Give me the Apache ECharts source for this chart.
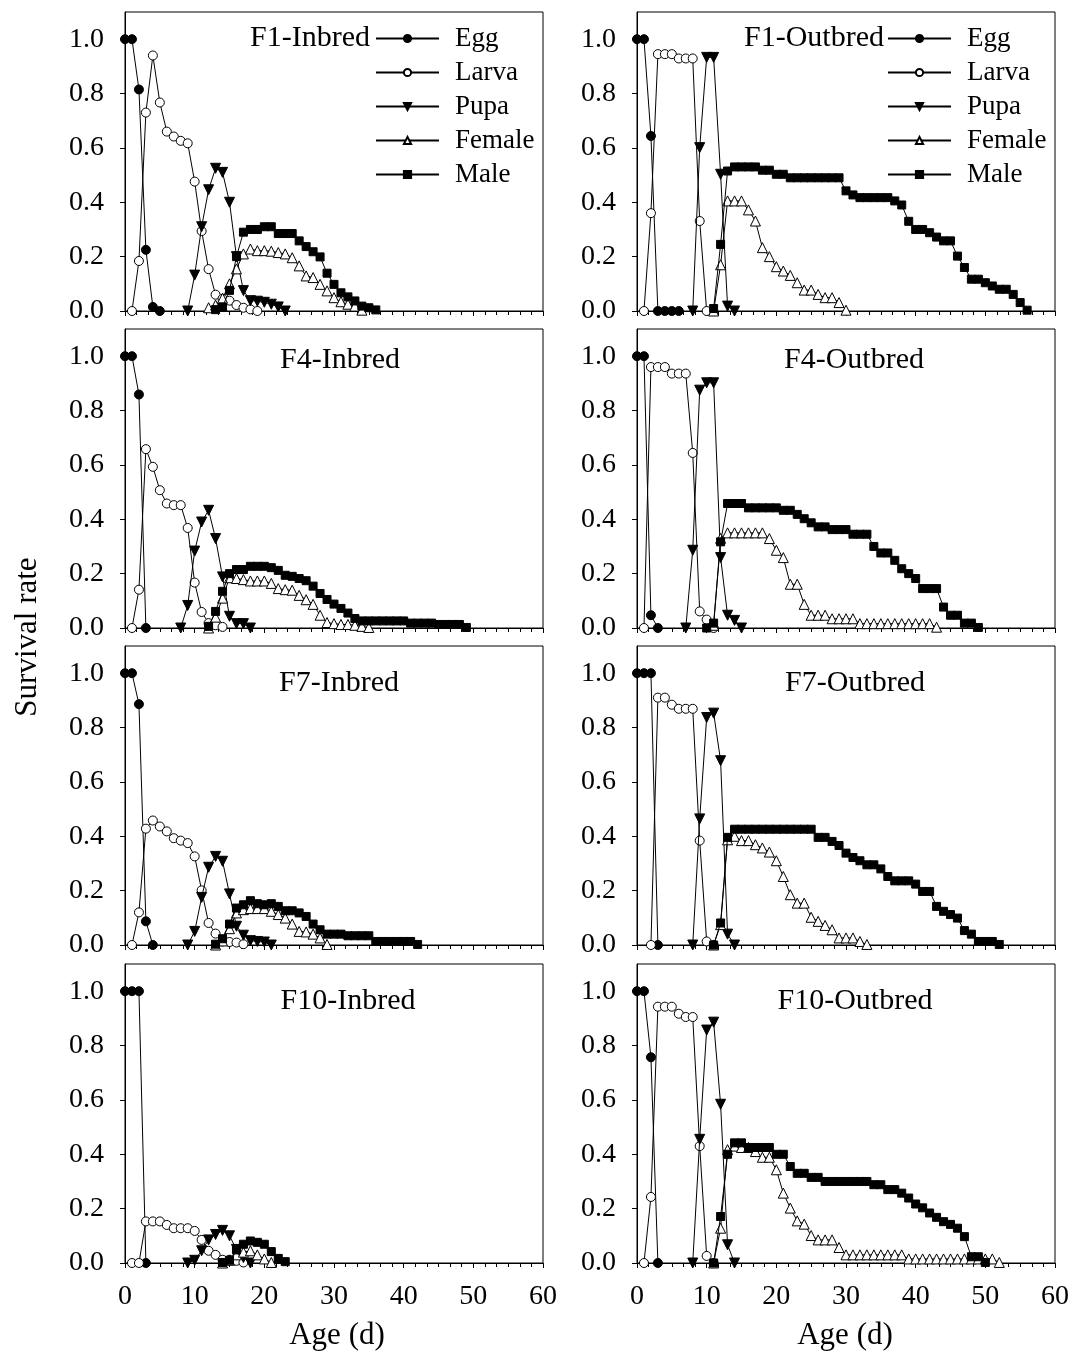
<!DOCTYPE html>
<html>
<head>
<meta charset="utf-8">
<script src="https://cdn.jsdelivr.net/npm/echarts@6/dist/echarts.min.js"></script>
<style>
html,body{margin:0;padding:0;background:#fff;}
#chart{width:1083px;height:1353px;}
</style>
</head>
<body>
<div id="chart"></div>
<script>
// ---------- DATA (start = first day, v = daily survival rates) ----------
const STAGES = ['Egg', 'Larva', 'Pupa', 'Female', 'Male'];
const X_TICKS = [0, 10, 20, 30, 40, 50, 60];
const Y_TICKS = [0, 0.2, 0.4, 0.6, 0.8, 1.0];

// F1-Inbred
const F1_IN_EGG    = {start: 0,  v: [1, 1, 0.815, 0.225, 0.015, 0]};
const F1_IN_LARVA  = {start: 1,  v: [0, 0.184, 0.73, 0.94, 0.767, 0.66, 0.642, 0.626, 0.617, 0.476, 0.294, 0.154, 0.06, 0.045, 0.038, 0.022, 0.012, 0.006, 0]};
const F1_IN_PUPA   = {start: 9,  v: [0, 0.132, 0.31, 0.446, 0.525, 0.51, 0.40, 0.20, 0.075, 0.038, 0.036, 0.032, 0.025, 0.015, 0]};
const F1_IN_FEMALE = {start: 12, v: [0.012, 0.022, 0.047, 0.1, 0.155, 0.21, 0.228, 0.222, 0.222, 0.22, 0.215, 0.21, 0.196, 0.166, 0.129, 0.123, 0.098, 0.074, 0.049, 0.034, 0.025, 0.018, 0.003]};
const F1_IN_MALE   = {start: 13, v: [0.005, 0.015, 0.076, 0.2, 0.29, 0.3, 0.3, 0.31, 0.31, 0.285, 0.285, 0.285, 0.258, 0.237, 0.218, 0.199, 0.139, 0.098, 0.067, 0.052, 0.037, 0.018, 0.012, 0.004]};

// F1-Outbred
const F1_OUT_EGG    = {start: 0,  v: [1, 1, 0.644, 0, 0, 0, 0]};
const F1_OUT_LARVA  = {start: 1,  v: [0, 0.36, 0.945, 0.945, 0.945, 0.929, 0.929, 0.929, 0.331, 0]};
const F1_OUT_PUPA   = {start: 8,  v: [0, 0.601, 0.933, 0.933, 0.503, 0.018, 0]};
const F1_OUT_FEMALE = {start: 11, v: [0, 0.17, 0.405, 0.405, 0.405, 0.372, 0.331, 0.233, 0.2, 0.163, 0.147, 0.131, 0.104, 0.077, 0.077, 0.061, 0.049, 0.049, 0.031, 0.003]};
const F1_OUT_MALE   = {start: 11, v: [0.009, 0.245, 0.515, 0.53, 0.53, 0.53, 0.53, 0.518, 0.518, 0.503, 0.503, 0.49, 0.49, 0.49, 0.49, 0.49, 0.49, 0.49, 0.49, 0.442, 0.427, 0.417, 0.417, 0.417, 0.417, 0.417, 0.405, 0.39, 0.33, 0.30, 0.30, 0.288, 0.272, 0.258, 0.258, 0.202, 0.16, 0.117, 0.117, 0.104, 0.092, 0.08, 0.08, 0.061, 0.031, 0.003]};

// F4-Inbred
const F4_IN_EGG    = {start: 0,  v: [1, 1, 0.859, 0]};
const F4_IN_LARVA  = {start: 1,  v: [0, 0.141, 0.658, 0.593, 0.507, 0.458, 0.452, 0.452, 0.368, 0.167, 0.059, 0.018, 0.01, 0.004]};
const F4_IN_PUPA   = {start: 8,  v: [0, 0.083, 0.283, 0.39, 0.433, 0.329, 0.188, 0.043, 0.016, 0.016, 0]};
const F4_IN_FEMALE = {start: 12, v: [0, 0.04, 0.11, 0.185, 0.182, 0.178, 0.173, 0.173, 0.173, 0.164, 0.145, 0.141, 0.139, 0.12, 0.104, 0.087, 0.047, 0.02, 0.016, 0.013, 0.013, 0.01, 0.006, 0.002]};
const F4_IN_MALE   = {start: 12, v: [0.006, 0.061, 0.135, 0.2, 0.215, 0.215, 0.227, 0.227, 0.227, 0.222, 0.212, 0.194, 0.19, 0.182, 0.174, 0.154, 0.127, 0.105, 0.088, 0.072, 0.055, 0.035, 0.026, 0.026, 0.026, 0.026, 0.026, 0.026, 0.026, 0.018, 0.018, 0.018, 0.018, 0.013, 0.013, 0.013, 0.013, 0.002]};

// F4-Outbred
const F4_OUT_EGG    = {start: 0,  v: [1, 1, 0.047, 0]};
const F4_OUT_LARVA  = {start: 1,  v: [0, 0.96, 0.96, 0.96, 0.936, 0.936, 0.936, 0.644, 0.061, 0.031, 0]};
const F4_OUT_PUPA   = {start: 7,  v: [0, 0.286, 0.875, 0.902, 0.902, 0.259, 0.047, 0.028, 0]};
const F4_OUT_FEMALE = {start: 11, v: [0.01, 0.33, 0.35, 0.35, 0.35, 0.35, 0.35, 0.35, 0.329, 0.286, 0.259, 0.161, 0.161, 0.087, 0.047, 0.047, 0.047, 0.034, 0.034, 0.034, 0.034, 0.016, 0.016, 0.016, 0.016, 0.016, 0.016, 0.016, 0.016, 0.016, 0.016, 0.016, 0.003]};
const F4_OUT_MALE   = {start: 10, v: [0, 0.018, 0.317, 0.458, 0.458, 0.458, 0.442, 0.442, 0.442, 0.442, 0.442, 0.433, 0.433, 0.418, 0.402, 0.387, 0.372, 0.372, 0.362, 0.362, 0.362, 0.345, 0.345, 0.345, 0.3, 0.276, 0.276, 0.249, 0.218, 0.2, 0.182, 0.145, 0.145, 0.145, 0.077, 0.047, 0.047, 0.018, 0.018, 0.002]};

// F7-Inbred
const F7_IN_EGG    = {start: 0,  v: [1, 1, 0.886, 0.087, 0]};
const F7_IN_LARVA  = {start: 1,  v: [0, 0.12, 0.428, 0.458, 0.436, 0.418, 0.393, 0.384, 0.375, 0.326, 0.201, 0.081, 0.042, 0.013, 0.011, 0.009, 0.003]};
const F7_IN_PUPA   = {start: 9,  v: [0, 0.05, 0.175, 0.286, 0.326, 0.308, 0.188, 0.069, 0.036, 0.016, 0.013, 0.011, 0]};
const F7_IN_FEMALE = {start: 13, v: [0, 0.015, 0.06, 0.118, 0.13, 0.134, 0.134, 0.134, 0.124, 0.112, 0.099, 0.077, 0.05, 0.048, 0.04, 0.026, 0.002]};
const F7_IN_MALE   = {start: 13, v: [0.003, 0.023, 0.077, 0.136, 0.148, 0.163, 0.152, 0.148, 0.152, 0.142, 0.126, 0.126, 0.118, 0.105, 0.077, 0.056, 0.04, 0.04, 0.04, 0.034, 0.034, 0.034, 0.034, 0.013, 0.013, 0.013, 0.013, 0.013, 0.013, 0.002]};

// F7-Outbred
const F7_OUT_EGG    = {start: 0,  v: [1, 1, 1, 0]};
const F7_OUT_LARVA  = {start: 2,  v: [0, 0.91, 0.91, 0.884, 0.869, 0.869, 0.869, 0.384, 0.013, 0]};
const F7_OUT_PUPA   = {start: 8,  v: [0, 0.464, 0.837, 0.853, 0.678, 0.04, 0]};
const F7_OUT_FEMALE = {start: 11, v: [0, 0.075, 0.387, 0.4, 0.384, 0.384, 0.369, 0.357, 0.342, 0.31, 0.252, 0.185, 0.154, 0.154, 0.102, 0.087, 0.072, 0.056, 0.026, 0.026, 0.026, 0.013, 0.002]};
const F7_OUT_MALE   = {start: 11, v: [0, 0.081, 0.396, 0.426, 0.426, 0.426, 0.426, 0.426, 0.426, 0.426, 0.426, 0.426, 0.426, 0.426, 0.426, 0.396, 0.396, 0.381, 0.366, 0.338, 0.322, 0.31, 0.295, 0.295, 0.28, 0.252, 0.236, 0.236, 0.236, 0.224, 0.197, 0.197, 0.142, 0.124, 0.112, 0.099, 0.053, 0.04, 0.013, 0.013, 0.013, 0.002]};

// F10-Inbred
const F10_IN_EGG    = {start: 0,  v: [1, 1, 1, 0]};
const F10_IN_LARVA  = {start: 1,  v: [0, 0, 0.153, 0.153, 0.153, 0.14, 0.128, 0.128, 0.128, 0.118, 0.085, 0.045, 0.03, 0.012, 0.012, 0.008, 0.002]};
const F10_IN_PUPA   = {start: 9,  v: [0, 0.01, 0.045, 0.085, 0.105, 0.12, 0.1, 0.05, 0.02, 0]};
const F10_IN_FEMALE = {start: 14, v: [0, 0.01, 0.03, 0.04, 0.045, 0.03, 0.015, 0.002]};
const F10_IN_MALE   = {start: 14, v: [0.002, 0.01, 0.048, 0.069, 0.081, 0.076, 0.069, 0.042, 0.017, 0.005]};

// F10-Outbred
const F10_OUT_EGG    = {start: 0,  v: [1, 1, 0.757, 0]};
const F10_OUT_LARVA  = {start: 1,  v: [0, 0.243, 0.943, 0.943, 0.943, 0.917, 0.905, 0.905, 0.43, 0.026, 0]};
const F10_OUT_PUPA   = {start: 8,  v: [0, 0.455, 0.857, 0.886, 0.584, 0.067, 0]};
const F10_OUT_FEMALE = {start: 11, v: [0, 0.128, 0.417, 0.43, 0.425, 0.425, 0.41, 0.389, 0.389, 0.343, 0.257, 0.202, 0.155, 0.143, 0.101, 0.085, 0.085, 0.085, 0.057, 0.03, 0.03, 0.03, 0.03, 0.03, 0.03, 0.03, 0.03, 0.03, 0.015, 0.015, 0.015, 0.015, 0.015, 0.015, 0.015, 0.015, 0.015, 0.015, 0.015, 0.015, 0.015, 0.002]};
const F10_OUT_MALE   = {start: 11, v: [0, 0.171, 0.4, 0.442, 0.442, 0.425, 0.425, 0.425, 0.425, 0.4, 0.4, 0.355, 0.33, 0.33, 0.315, 0.315, 0.3, 0.3, 0.3, 0.3, 0.3, 0.3, 0.3, 0.288, 0.288, 0.27, 0.27, 0.257, 0.239, 0.217, 0.203, 0.184, 0.168, 0.152, 0.142, 0.128, 0.097, 0.023, 0.023, 0.002]};

// ---------- PANELS ----------
const PANELS = [
  {title: 'F1-Inbred',   col: 0, row: 0, series: [F1_IN_EGG, F1_IN_LARVA, F1_IN_PUPA, F1_IN_FEMALE, F1_IN_MALE]},
  {title: 'F1-Outbred',  col: 1, row: 0, series: [F1_OUT_EGG, F1_OUT_LARVA, F1_OUT_PUPA, F1_OUT_FEMALE, F1_OUT_MALE]},
  {title: 'F4-Inbred',   col: 0, row: 1, series: [F4_IN_EGG, F4_IN_LARVA, F4_IN_PUPA, F4_IN_FEMALE, F4_IN_MALE]},
  {title: 'F4-Outbred',  col: 1, row: 1, series: [F4_OUT_EGG, F4_OUT_LARVA, F4_OUT_PUPA, F4_OUT_FEMALE, F4_OUT_MALE]},
  {title: 'F7-Inbred',   col: 0, row: 2, series: [F7_IN_EGG, F7_IN_LARVA, F7_IN_PUPA, F7_IN_FEMALE, F7_IN_MALE]},
  {title: 'F7-Outbred',  col: 1, row: 2, series: [F7_OUT_EGG, F7_OUT_LARVA, F7_OUT_PUPA, F7_OUT_FEMALE, F7_OUT_MALE]},
  {title: 'F10-Inbred',  col: 0, row: 3, series: [F10_IN_EGG, F10_IN_LARVA, F10_IN_PUPA, F10_IN_FEMALE, F10_IN_MALE]},
  {title: 'F10-Outbred', col: 1, row: 3, series: [F10_OUT_EGG, F10_OUT_LARVA, F10_OUT_PUPA, F10_OUT_FEMALE, F10_OUT_MALE]}
];

// ---------- STYLE / LAYOUT ----------
const FONT = 'Liberation Serif';
const GRID_LEFT = [125, 637];
const GRID_TOP = [12, 329, 646, 964];
const GRID_W = 418, GRID_H = 299;
const STAGE_STYLE = {
  Egg:    {symbol: 'circle', symbolSize: 9, symbolRotate: 0, itemStyle: {color: '#000', borderColor: '#000', borderWidth: 1}},
  Larva:  {symbol: 'circle', symbolSize: 9, symbolRotate: 0, itemStyle: {color: '#fff', borderColor: '#000', borderWidth: 1}},
  Pupa:   {symbol: 'triangle', symbolSize: 10, symbolRotate: 180, itemStyle: {color: '#000', borderColor: '#000', borderWidth: 1}},
  Female: {symbol: 'triangle', symbolSize: 10, symbolRotate: 0, itemStyle: {color: '#fff', borderColor: '#000', borderWidth: 1}},
  Male:   {symbol: 'rect', symbolSize: 8, symbolRotate: 0, itemStyle: {color: '#000', borderColor: '#000', borderWidth: 1}}
};

function toPairs(s) { return s.v.map((y, i) => [s.start + i, y]); }

const grids = [], xAxes = [], yAxes = [], series = [], graphics = [];
PANELS.forEach((p, idx) => {
  const bottomRow = p.row === 3;
  grids.push({left: GRID_LEFT[p.col], top: GRID_TOP[p.row], width: GRID_W, height: GRID_H,
    show: true, borderColor: '#000', borderWidth: 1, backgroundColor: '#fff', containLabel: false});
  xAxes.push({type: 'value', gridIndex: idx, min: X_TICKS[0], max: X_TICKS[X_TICKS.length - 1], interval: 10,
    axisLine: {show: true, onZero: false, lineStyle: {color: '#000', width: 1}},
    axisTick: {show: true, inside: false, length: 5, lineStyle: {color: '#000', width: 1}},
    minorTick: {show: true, splitNumber: 6, length: 4, lineStyle: {color: '#000', width: 1}},
    splitLine: {show: false},
    axisLabel: {show: bottomRow, margin: 20, color: '#000', fontFamily: FONT, fontSize: 28}
  });
  yAxes.push({type: 'value', gridIndex: idx, min: 0, max: 1.1,
    axisLine: {show: true, lineStyle: {color: '#000', width: 1}},
    axisTick: {show: true, inside: false, length: 5, customValues: Y_TICKS, lineStyle: {color: '#000', width: 1}},
    splitLine: {show: false},
    axisLabel: {show: true, margin: 21, color: '#000', fontFamily: FONT, fontSize: 28,
      customValues: Y_TICKS, formatter: v => v.toFixed(1)}
  });
  p.series.forEach((s, k) => {
    const name = STAGES[k];
    const st = STAGE_STYLE[name];
    series.push({
      type: 'line', name: name, xAxisIndex: idx, yAxisIndex: idx,
      data: toPairs(s), showSymbol: true, showAllSymbol: true,
      symbol: st.symbol, symbolSize: st.symbolSize, symbolRotate: st.symbolRotate,
      itemStyle: st.itemStyle, lineStyle: {color: '#000', width: 1},
      emphasis: {disabled: true}, z: 2 + k, animation: false
    });
  });
});

// Panel titles
const TITLE_POS = {
  'F1-Inbred':   {x: 370, y: 38, align: 'right'},
  'F1-Outbred':  {x: 884, y: 38, align: 'right'},
  'F4-Inbred':   {x: 340, y: 360, align: 'center'},
  'F4-Outbred':  {x: 854, y: 360, align: 'center'},
  'F7-Inbred':   {x: 339, y: 683, align: 'center'},
  'F7-Outbred':  {x: 855, y: 683, align: 'center'},
  'F10-Inbred':  {x: 348, y: 1001, align: 'center'},
  'F10-Outbred': {x: 855, y: 1001, align: 'center'}
};
PANELS.forEach(p => {
  const t = TITLE_POS[p.title];
  graphics.push({type: 'text', x: t.x, y: t.y, z: 100,
    style: {text: p.title, fill: '#000', font: '30px "' + FONT + '"', textAlign: t.align, textVerticalAlign: 'middle'}});
});
graphics.push({type: 'text', x: 28, y: 637, rotation: Math.PI / 2, z: 100,
  style: {text: 'Survival rate', fill: '#000', font: '31px "' + FONT + '"', textAlign: 'center', textVerticalAlign: 'middle'}});
graphics.push({type: 'text', x: 337, y: 1336, z: 100,
  style: {text: 'Age (d)', fill: '#000', font: '31px "' + FONT + '"', textAlign: 'center', textVerticalAlign: 'middle'}});
graphics.push({type: 'text', x: 845, y: 1336, z: 100,
  style: {text: 'Age (d)', fill: '#000', font: '31px "' + FONT + '"', textAlign: 'center', textVerticalAlign: 'middle'}});

const legendCommon = {
  orient: 'vertical', data: STAGES, selectedMode: false,
  itemWidth: 63, itemHeight: 9, itemGap: 7,
  textStyle: {color: '#000', fontFamily: FONT, fontSize: 27, lineHeight: 24, padding: [0, 0, 0, 11]},
  backgroundColor: 'transparent', padding: 0, z: 50
};

const option = {
  animation: false,
  backgroundColor: '#fff',
  grid: grids,
  xAxis: xAxes,
  yAxis: yAxes,
  legend: [
    Object.assign({left: 375, top: 25}, legendCommon),
    Object.assign({left: 887, top: 25}, legendCommon)
  ],
  series: series,
  graphic: graphics
};

const chart = echarts.init(document.getElementById('chart'), null, {renderer: 'canvas'});
chart.setOption(option);
</script>
</body>
</html>
